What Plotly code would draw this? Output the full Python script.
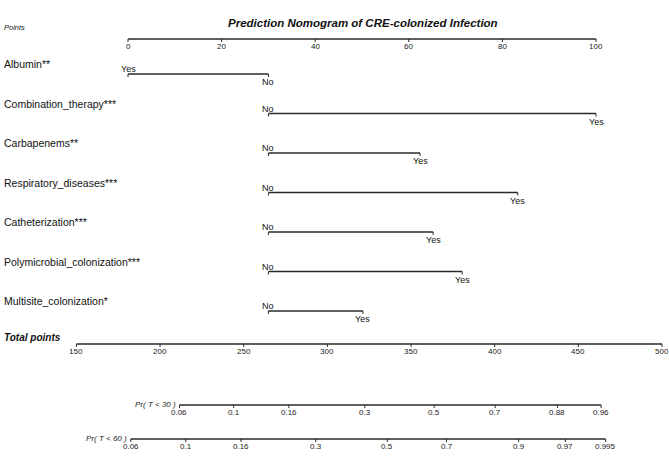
import plotly.graph_objects as go

# ---------------- data ----------------
title = "Prediction Nomogram of CRE-colonized Infection"
points_ticks = [0, 20, 40, 60, 80, 100]
variables = ["Albumin**", "Combination_therapy***", "Carbapenems**",
             "Respiratory_diseases***", "Catheterization***",
             "Polymicrobial_colonization***", "Multisite_colonization*"]
level1_names = ["Yes", "No", "No", "No", "No", "No", "No"]
level1_points = [0, 30, 30, 30, 30, 30, 30]
level2_names = ["No", "Yes", "Yes", "Yes", "Yes", "Yes", "Yes"]
level2_points = [30, 100, 62.4, 83.3, 65.2, 71.4, 50.2]
total_ticks = [150, 200, 250, 300, 350, 400, 450, 500]
pr30_labels = ["0.06", "0.1", "0.16", "0.3", "0.5", "0.7", "0.88", "0.96"]
pr30_total = [211.6, 244.0, 277.0, 322.4, 363.8, 400.3, 437.5, 463.6]
pr60_labels = ["0.06", "0.1", "0.16", "0.3", "0.5", "0.7", "0.9", "0.97", "0.995"]
pr60_total = [182.5, 215.4, 248.4, 293.0, 335.8, 371.2, 414.3, 442.2, 466.3]

# ---------------- layout helpers ----------------
W, H = 669, 469
FONT = "Liberation Sans, Arial, Helvetica, sans-serif"
LINE_COLOR = "#2a2a2a"
TICK = 3
y_points = 39
row_y0, row_step = 74, 39.5
y_total = 344
y_pr30 = 405
y_pr60 = 439

fig = go.Figure()
ann = []


def axis_line(xvals, y, xaxis="x"):
    xs, ys = [min(xvals), max(xvals)], [y, y]
    fig.add_trace(go.Scatter(x=xs, y=ys, mode="lines", xaxis=xaxis, yaxis="y",
                             line=dict(color=LINE_COLOR, width=1.3),
                             hoverinfo="skip", showlegend=False))
    tx, ty = [], []
    for v in xvals:
        tx += [v, v, None]
        ty += [y, y + TICK, None]
    fig.add_trace(go.Scatter(x=tx, y=ty, mode="lines", xaxis=xaxis, yaxis="y",
                             line=dict(color=LINE_COLOR, width=1),
                             hoverinfo="skip", showlegend=False))


def tick_labels(xvals, labels, y, xref="x", size=8):
    for v, lab in zip(xvals, labels):
        ann.append(dict(x=v, y=y + TICK, xref=xref, yref="y", text=lab,
                        showarrow=False, xanchor="center", yanchor="top",
                        font=dict(family=FONT, size=size, color="#222"),
                        borderpad=0))


# title
ann.append(dict(x=363 / W, y=23, xref="paper", yref="y", text="<b><i>%s</i></b>" % title,
                showarrow=False, xanchor="center", yanchor="middle",
                font=dict(family=FONT, size=11.5, color="#111")))

# points axis
ann.append(dict(x=3 / W, y=y_points - 12, xref="paper", yref="y", text="<i>Points</i>",
                showarrow=False, xanchor="left", yanchor="middle",
                font=dict(family=FONT, size=7.5, color="#222"), borderpad=0))
axis_line(points_ticks, y_points)
tick_labels(points_ticks, [str(t) for t in points_ticks], y_points - 1)

# variable rows
for i, name in enumerate(variables):
    y = row_y0 + i * row_step
    ann.append(dict(x=3 / W, y=y - 10, xref="paper", yref="y", text=name,
                    showarrow=False, xanchor="left", yanchor="middle",
                    font=dict(family=FONT, size=10.5, color="#111"), borderpad=0))
    xs = [level1_points[i], level2_points[i]]
    axis_line(xs, y)
    ann.append(dict(x=level1_points[i], y=y + 1, xref="x", yref="y", text=level1_names[i],
                    showarrow=False, xanchor="center", yanchor="bottom",
                    font=dict(family=FONT, size=9, color="#111"), borderpad=0))
    ann.append(dict(x=level2_points[i], y=y + 2, xref="x", yref="y", text=level2_names[i],
                    showarrow=False, xanchor="center", yanchor="top",
                    font=dict(family=FONT, size=9, color="#111"), borderpad=0))

# total points
ann.append(dict(x=3 / W, y=337, xref="paper", yref="y", text="<b><i>Total points</i></b>",
                showarrow=False, xanchor="left", yanchor="middle",
                font=dict(family=FONT, size=10, color="#111"), borderpad=0))
axis_line(total_ticks, y_total, xaxis="x2")
tick_labels(total_ticks, [str(t) for t in total_ticks], y_total - 1, xref="x2")

# probability axes
for lab, pos, labels, y in [("Pr( T < 30 )", pr30_total, pr30_labels, y_pr30),
                            ("Pr( T < 60 )", pr60_total, pr60_labels, y_pr60)]:
    axis_line(pos, y, xaxis="x2")
    tick_labels(pos, labels, y - 1, xref="x2")
    ann.append(dict(x=min(pos) - 1.5, y=y - 1, xref="x2", yref="y", text="<i>%s</i>" % lab,
                    showarrow=False, xanchor="right", yanchor="middle",
                    font=dict(family=FONT, size=8, color="#222"), borderpad=0))

# axes scaled so that points 0 -> px 128, 100 -> px 596; total 150 -> px 76, 500 -> px 662
pp = (596 - 128) / 100.0
x_lo = -128 / pp
x_hi = x_lo + W / pp
tp = (662 - 76.4) / 350.0
x2_lo = 150 - 76.4 / tp
x2_hi = x2_lo + W / tp

fig.update_layout(
    width=W, height=H,
    margin=dict(l=0, r=0, t=0, b=0),
    paper_bgcolor="white", plot_bgcolor="white",
    showlegend=False,
    annotations=ann,
    xaxis=dict(range=[x_lo, x_hi], visible=False, fixedrange=True),
    xaxis2=dict(range=[x2_lo, x2_hi], visible=False, overlaying="x", fixedrange=True),
    yaxis=dict(range=[H, 0], visible=False, fixedrange=True),
)

fig.write_html("out.html", config={"displayModeBar": False},
               post_script="document.body.style.margin='0';document.body.style.padding='0';")
